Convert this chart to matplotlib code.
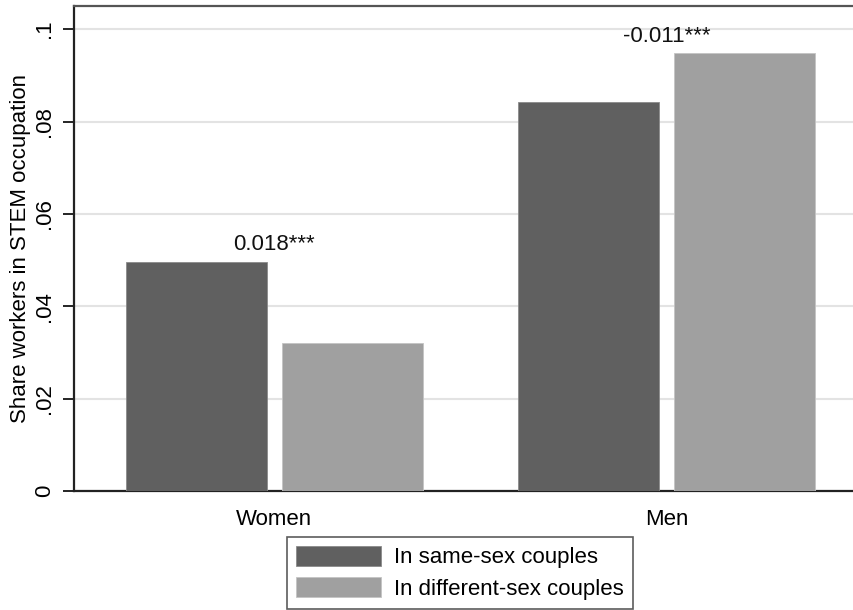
import matplotlib
matplotlib.use("Agg")
import matplotlib.pyplot as plt
from matplotlib.patches import Patch

plt.rcParams['font.family'] = ['Liberation Sans', 'DejaVu Sans']

# Data
groups = ["Women", "Men"]
series_names = ["In same-sex couples", "In different-sex couples"]
same_sex = [0.0497, 0.0843]
different_sex = [0.0320, 0.0948]
diff_labels = ["0.018***", "-0.011***"]
yticks = [0, 0.02, 0.04, 0.06, 0.08, 0.1]
ytick_labels = ["0", ".02", ".04", ".06", ".08", ".1"]

dark = "#606060"
light = "#a0a0a0"
fs = 16

fig = plt.figure(figsize=(8.54, 6.10), dpi=100)
ax = fig.add_axes([74 / 854, 1 - 491.3 / 610, 1 - 74 / 854 + 0.002, (491.3 - 6) / 610])

x = list(range(len(groups)))
width = 0.3604
offset = 0.1989
ax.bar([i - offset for i in x], same_sex, width, color=dark, edgecolor="#8a8a8a",
       linewidth=0.6, zorder=3)
ax.bar([i + offset for i in x], different_sex, width, color=light, edgecolor="#c4c4c4",
       linewidth=0.6, zorder=3)

for i, lab in enumerate(diff_labels):
    top = max(same_sex[i], different_sex[i])
    ax.annotate(lab, xy=(i, top), xytext=(0, 8), textcoords="offset points",
                ha="center", va="baseline", fontsize=fs, color="#111111")

ax.set_xlim(-0.5112, 1.4826)
ax.set_ylim(0, 0.105)
ax.set_xticks(x)
ax.set_xticklabels(groups, fontsize=fs)
ax.set_yticks(yticks)
ax.set_yticklabels(ytick_labels, fontsize=fs, rotation=90, va="center")
ax.tick_params(axis="x", length=0, pad=13)
ax.tick_params(axis="y", length=8, width=1.2, pad=5.5, direction="out")

ax.yaxis.grid(True, color="#e3e3e3", linewidth=1.5, zorder=0)
ax.set_axisbelow(True)

for side in ["left", "bottom", "top"]:
    ax.spines[side].set_linewidth(1.6)
    ax.spines[side].set_color("#222222")
ax.spines["top"].set_color("#555555")
ax.spines["right"].set_visible(False)

ax.set_ylabel("Share workers in STEM occupation", fontsize=fs, labelpad=2)

handles = [Patch(facecolor=dark, edgecolor="#8a8a8a", linewidth=0.6),
           Patch(facecolor=light, edgecolor="#c4c4c4", linewidth=0.6)]
leg = fig.legend(handles, series_names, loc="upper center",
                 bbox_to_anchor=(460 / 854, 1 - 537 / 610), fontsize=fs,
                 frameon=True, fancybox=False, edgecolor="#333333",
                 handlelength=3.8, handleheight=1.0, handletextpad=0.6,
                 labelspacing=0.4, borderpad=0.4, borderaxespad=0)
leg.get_frame().set_linewidth(1.2)

fig.savefig("out.png", dpi=100)
